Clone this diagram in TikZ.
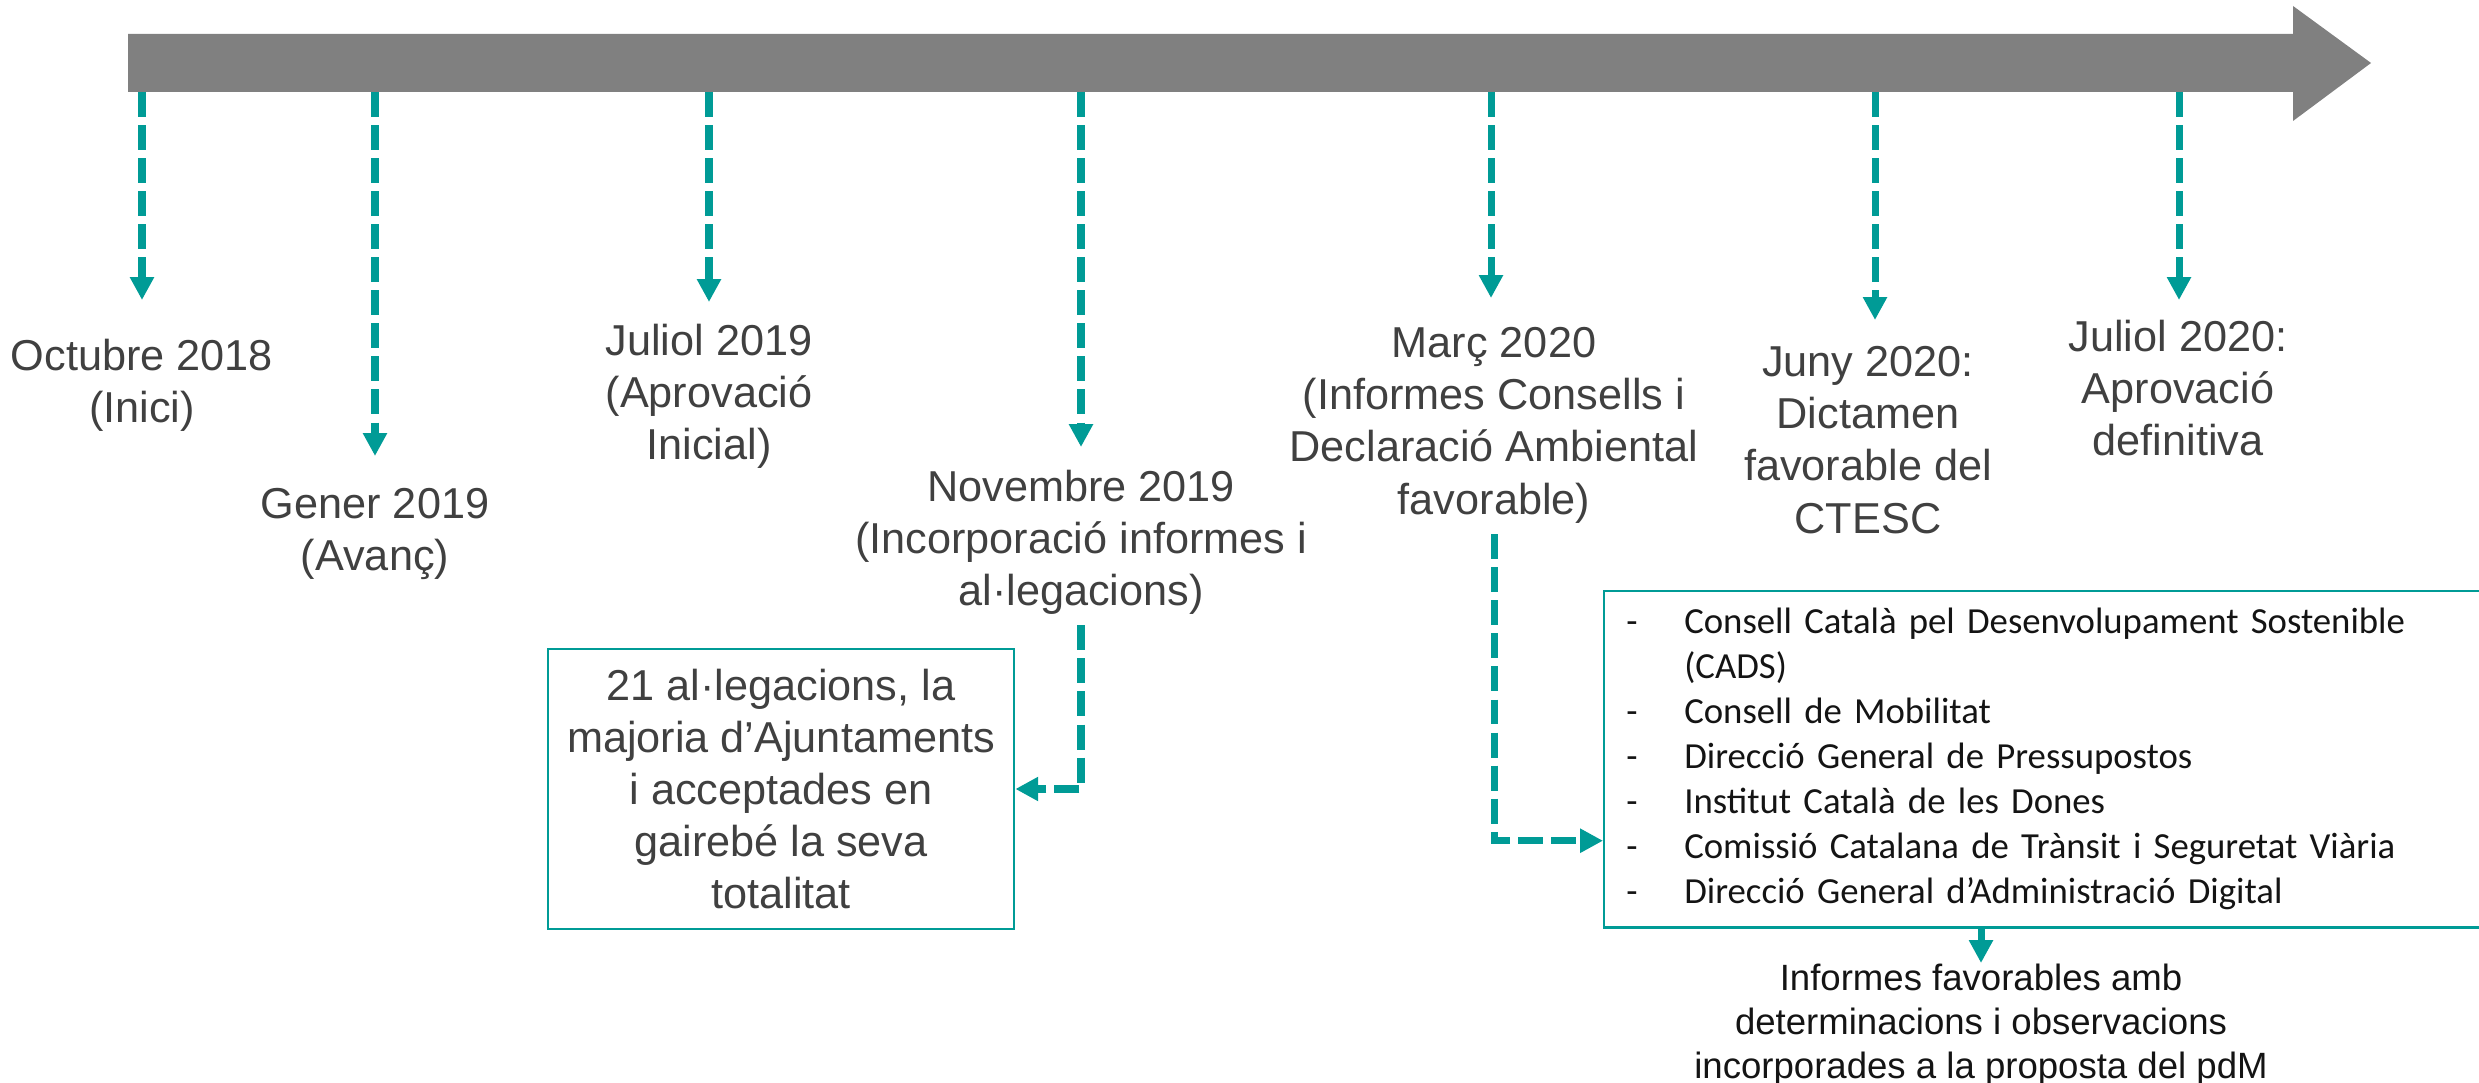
\documentclass[tikz,border=0pt]{standalone}
\usepackage{fontspec}
\setmainfont{Liberation Sans}
\newfontfamily\llistafont{Carlito}
\usetikzlibrary{arrows.meta, calc, positioning}
\definecolor{barragris}{RGB}{128,128,128}
\definecolor{verdteal}{RGB}{0,155,150}
\definecolor{textgris}{RGB}{64,64,64}
\definecolor{textfosc}{RGB}{20,20,20}

\tikzset{
  fita/.style={align=center, text=textgris, inner sep=0pt, anchor=north,
    font=\fontsize{12.3}{14.8}\selectfont},
  guio/.style={verdteal, line width=2pt, dash pattern=on 7.1pt off 2.3pt,
    -{Triangle[length=6.5pt,width=6.5pt]}},
  caixa/.style={draw=verdteal, line width=0.7pt}
}

\begin{document}
\begin{tikzpicture}[x=0.01cm, y=-0.01cm, >=Stealth]
    \useasboundingbox (0,0) rectangle (2479,1083);

    % Timeline arrow
    \fill[barragris] (128,34) -- (2293,34) -- (2293,6) -- (2371,63)
        -- (2293,121) -- (2293,92) -- (128,92) -- cycle;

    % Ticks on the bar
    \coordinate (t1) at (142,92);
    \coordinate (t2) at (375,92);
    \coordinate (t3) at (709,92);
    \coordinate (t4) at (1081,92);
    \coordinate (t5) at (1491,92);
    \coordinate (t6) at (1875,92);
    \coordinate (t7) at (2179,92);
    \coordinate (e1) at (142,300);
    \coordinate (e2) at (375,456);
    \coordinate (e3) at (709,302);
    \coordinate (e4) at (1081,447);
    \coordinate (e5) at (1491,298);
    \coordinate (e6) at (1875,320);
    \coordinate (e7) at (2179,300);

    % Milestones
    \node[fita] (octubre) at (142,338) {Octubre 2018\\(Inici)};
    \node[fita] (gener) at (375,488) {Gener 2019\\(Avanç)};
    \node[fita] (juliol) at (709,323) {Juliol 2019\\(Aprovació\\Inicial)};
    \node[fita] (nov) at (1081,469) {Novembre 2019\\(Incorporació informes i\\al·legacions)};
    \node[fita] (marc) at (1494,327) {Març 2020\\(Informes Consells i\\Declaració Ambiental\\favorable)};
    \node[fita] (juny) at (1868,346) {Juny 2020:\\Dictamen\\favorable del\\CTESC};
    \node[fita] (final) at (2178,319) {Juliol 2020:\\Aprovació\\definitiva};

    \foreach \i in {1,...,7}
        \draw[guio] (t\i) -- (e\i);

    % Boxes
    \node[caixa, fita, anchor=center, minimum width=4.66cm, minimum height=2.8cm]
        (alleg) at (781,789)
        {21 al·legacions, la\\majoria d’Ajuntaments\\i acceptades en\\gairebé la seva\\totalitat};
    \node[caixa, anchor=north west, text=textfosc, inner xsep=0.22cm, inner ysep=0pt,
        text width=8.31cm, minimum height=3.36cm,
        font=\llistafont\fontsize{10.45}{12.8}\selectfont] (llista) at (1603,590)
        {\begin{tabular}{@{}p{0.58cm}@{}l@{}}
        - & Consell Català pel Desenvolupament Sostenible\\
          & (CADS)\\
        - & Consell de Mobilitat\\
        - & Direcció General de Pressupostos\\
        - & Institut Català de les Dones\\
        - & Comissió Catalana de Trànsit i Seguretat Viària\\
        - & Direcció General d’Administració Digital
        \end{tabular}};
    \node[fita, text=textfosc, font=\fontsize{10.4}{12.5}\selectfont] (nota) at (1981,963)
        {Informes favorables amb\\determinacions i observacions\\incorporades a la proposta del pdM};

    % Links to boxes
    \draw[guio] ([yshift=-3pt]nov.south) |- (alleg.east);
    \draw[guio] ([yshift=-3pt]marc.south) |- ([yshift=25pt]llista.south west);
    \draw[verdteal, line width=2pt, -{Triangle[length=6.5pt,width=6.5pt]}]
        (nota.north |- llista.south) -- (nota.north);
\end{tikzpicture}
\end{document}
